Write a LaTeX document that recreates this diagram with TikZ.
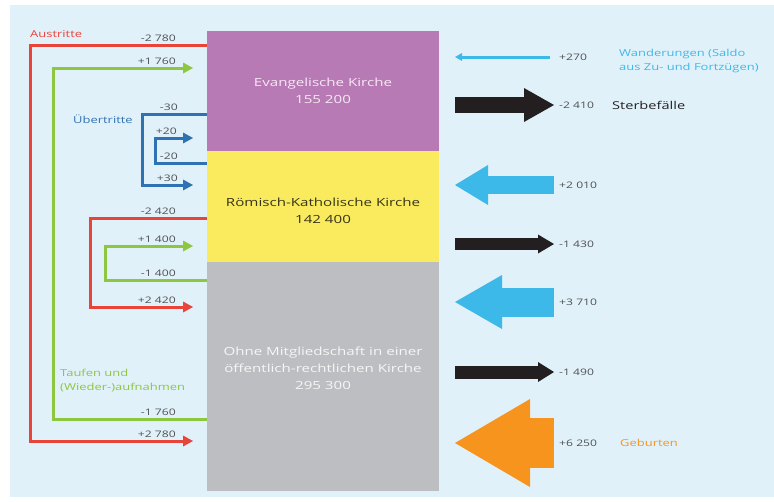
\documentclass[tikz,border=0pt]{standalone}
\usepackage{fontspec}
\setmainfont{Open Sans}[FakeStretch=1.35]
\usetikzlibrary{arrows.meta, positioning, calc}

\definecolor{bgblue}{RGB}{225,241,250}
\definecolor{evpurple}{RGB}{183,122,180}
\definecolor{evtext}{RGB}{248,232,244}
\definecolor{rkyellow}{RGB}{249,235,93}
\definecolor{rktext}{RGB}{55,52,25}
\definecolor{omgray}{RGB}{189,190,193}
\definecolor{omtext}{RGB}{246,246,246}
\definecolor{flowred}{RGB}{232,68,58}
\definecolor{flowgreen}{RGB}{141,198,63}
\definecolor{flowblue}{RGB}{47,114,180}
\definecolor{migcyan}{RGB}{60,185,233}
\definecolor{deathblack}{RGB}{35,31,32}
\definecolor{birthorange}{RGB}{247,148,29}
\definecolor{numgray}{RGB}{80,80,80}

\newcommand{\kirchfont}{\fontsize{11.2}{17}\selectfont}
\newcommand{\cntfont}{\fontsize{9}{11}\selectfont}
\newcommand{\notefont}{\fontsize{9.6}{14}\selectfont}

\tikzset{
  church/.style = {rectangle, minimum width=232pt, inner sep=0pt, outer sep=0pt,
                   align=center, font=\kirchfont},
  cnt/.style    = {font=\cntfont, text=numgray, inner sep=1pt},
  note/.style   = {font=\notefont, inner sep=0pt, align=left, anchor=west},
  flow/.style   = {line width=3pt, -{Triangle[length=10pt, width=11pt, line width=0pt]}},
  fat/.style n args = {3}{line width=#1,
                   -{Triangle[length=#2, width=#3, line width=0pt]}},
  node distance = 0pt
}

\begin{document}
\begin{tikzpicture}[x=1pt, y=-1pt]

  \useasboundingbox (0,0) rectangle (774,501);
  \fill[bgblue] (10,5) rectangle (774,497);

  % ── Church blocks ─────────────────────────────────────────────────────────
  \node[church, fill=evpurple, text=evtext, minimum height=120pt] (Ev) at (323,91)
        {Evangelische Kirche\\155 200};
  \node[church, fill=rkyellow, text=rktext, minimum height=111pt, text height=35pt,
        below=of Ev] (RK)
        {Römisch-Katholische Kirche\\142 400};
  \node[church, fill=omgray, text=omtext, minimum height=229pt, text depth=17pt,
        below=of RK] (OM)
        {Ohne Mitgliedschaft in einer\\öffentlich-rechtlichen Kirche\\295 300};

  % ── Flow end points (left side) ───────────────────────────────────────────
  \coordinate (ausOut)   at (Ev.west |- 0,45);
  \coordinate (ausIn)    at (193,441);
  \coordinate (tauOut)   at (OM.west |- 0,419);
  \coordinate (tauIn)    at (193,68);
  \coordinate (uebOut)   at (Ev.west |- 0,114);
  \coordinate (uebIn)    at (193,185);
  \coordinate (uebBack)  at (RK.west |- 0,163);
  \coordinate (uebBackIn) at (193,138);
  \coordinate (rkOut)    at (RK.west |- 0,218);
  \coordinate (rkIn)     at (193,307);
  \coordinate (omOut)    at (OM.west |- 0,280);
  \coordinate (omIn)     at (193,246);

  % ── Austritte / Aufnahmen / Übertritte ────────────────────────────────────
  \draw[flow, flowred]   (ausOut)  -| ([xshift=-163pt]ausIn)    -- (ausIn);
  \draw[flow, flowgreen] (tauOut)  -| ([xshift=-140pt]tauIn)    -- (tauIn);
  \draw[flow, flowblue]  (uebOut)  -| ([xshift=-51pt]uebIn)     -- (uebIn);
  \draw[flow, flowblue]  (uebBack) -| ([xshift=-38pt]uebBackIn) -- (uebBackIn);
  \draw[flow, flowred]   (rkOut)   -| ([xshift=-103pt]rkIn)     -- (rkIn);
  \draw[flow, flowgreen] (omOut)   -| ([xshift=-88pt]omIn)      -- (omIn);

  % flow values
  \node[cnt, anchor=south east] (vAusOut)  at ([xshift=-30pt, yshift=2pt]ausOut)  {-2 780};
  \node[cnt, anchor=south east] (vAusIn)   at ([xshift=-16pt, yshift=2pt]ausIn)   {+2 780};
  \node[cnt, anchor=south east] (vTauOut)  at ([xshift=-30pt, yshift=2pt]tauOut)  {-1 760};
  \node[cnt, anchor=south east] (vTauIn)   at ([xshift=-16pt, yshift=2pt]tauIn)   {+1 760};
  \node[cnt, anchor=south east] (vUebOut)  at ([xshift=-28pt, yshift=2pt]uebOut)  {-30};
  \node[cnt, anchor=south east] (vUebIn)   at ([xshift=-14pt, yshift=2pt]uebIn)   {+30};
  \node[cnt, anchor=south east] (vUebBack) at ([xshift=-28pt, yshift=2pt]uebBack) {-20};
  \node[cnt, anchor=south east] (vUebBkIn) at ([xshift=-15pt, yshift=2pt]uebBackIn) {+20};
  \node[cnt, anchor=south east] (vRkOut)   at ([xshift=-30pt, yshift=2pt]rkOut)   {-2 420};
  \node[cnt, anchor=south east] (vRkIn)    at ([xshift=-16pt, yshift=2pt]rkIn)    {+2 420};
  \node[cnt, anchor=south east] (vOmOut)   at ([xshift=-30pt, yshift=2pt]omOut)   {-1 400};
  \node[cnt, anchor=south east] (vOmIn)    at ([xshift=-16pt, yshift=2pt]omIn)    {+1 400};

  % captions
  \node[note, text=flowred]   (austritte)  at (30,34)  {Austritte};
  \node[note, text=flowblue]  (uebertritte) at (73,119) {Übertritte};
  \node[note, text=flowgreen] (taufen)     at (60,381) {Taufen und\\(Wieder-)aufnahmen};

  % ── Natural change and migration (right side) ─────────────────────────────
  \node[cnt, anchor=west] (vWand)   at (558,57)  {+270};
  \node[cnt, anchor=west] (vTod1)   at (558,105) {-2 410};
  \node[cnt, anchor=west] (vWand2)  at (558,185) {+2 010};
  \node[cnt, anchor=west] (vTod2)   at (558,244) {-1 430};
  \node[cnt, anchor=west] (vWand3)  at (558,302) {+3 710};
  \node[cnt, anchor=west] (vTod3)   at (558,372) {-1 490};
  \node[cnt, anchor=west] (vGeb)    at (558,443) {+6 250};

  \coordinate (wandTip)  at (455,57);
  \coordinate (tod1Tail) at (455,105);
  \coordinate (wand2Tip) at (455,185);
  \coordinate (tod2Tail) at (455,244);
  \coordinate (wand3Tip) at (455,302);
  \coordinate (tod3Tail) at (455,372);
  \coordinate (gebTip)   at (455,443);

  \draw[migcyan, line width=3pt, shorten <=8pt,
        -{Triangle[length=7pt, width=8pt, line width=0pt]}] (vWand.west) -- (wandTip);
  \draw[deathblack, fat={16pt}{30pt}{34pt}, shorten >=4pt]  (tod1Tail) -- (vTod1.west);
  \draw[migcyan, fat={18pt}{33pt}{40pt}, shorten <=4pt]     (vWand2.west) -- (wand2Tip);
  \draw[deathblack, fat={12pt}{16pt}{19pt}, shorten >=4pt]  (tod2Tail) -- (vTod2.west);
  \draw[migcyan, fat={29pt}{47pt}{54pt}, shorten <=4pt]     (vWand3.west) -- (wand3Tip);
  \draw[deathblack, fat={13pt}{16pt}{20pt}, shorten >=4pt]  (tod3Tail) -- (vTod3.west);
  \draw[birthorange, fat={50pt}{75pt}{88pt}, shorten <=4pt] (vGeb.west) -- (gebTip);

  \node[note, text=migcyan]     (wanderungen) at (619,61)  {Wanderungen (Saldo\\aus Zu- und Fortzügen)};
  \node[note, text=deathblack, font=\fontsize{10.8}{13}\selectfont]
        (sterbefaelle) at (612,105) {Sterbefälle};
  \node[note, text=birthorange] (geburten)    at (620,443) {Geburten};

\end{tikzpicture}
\end{document}
